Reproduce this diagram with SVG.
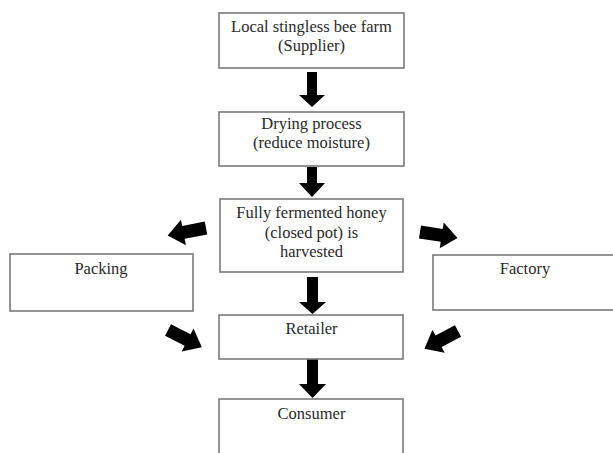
<svg xmlns="http://www.w3.org/2000/svg" width="613" height="453" viewBox="0 0 613 453">
<style>
.box{fill:#fff;stroke:#7a7a7a;stroke-width:1.6}
.t{font-family:"Liberation Serif","Times New Roman",serif;font-size:16.5px;fill:#2a2a2a;text-anchor:middle}
.arr{fill:#000}
</style>
<rect width="613" height="453" fill="#fff"/>
<g id="connectors">
<polygon class="arr" points="307,72 317,72 317,95 325,95 312,107 299,95 307,95"/>
<polygon class="arr" points="307,167 317,167 317,183 325,183 312,197 299,183 307,183"/>
<polygon class="arr" points="307,277 318,277 318,302 326,302 312.5,314 299,302 307,302"/>
<polygon class="arr" points="307,359 318,359 318,384 326,384 312.5,398 299,384 307,384"/>
<g transform="translate(206,228) rotate(169)"><polygon class="arr" points="0,-6.5 23,-6.5 23,-13 39,0 23,13 23,6.5 0,6.5"/></g>
<g transform="translate(420,232) rotate(9)"><polygon class="arr" points="0,-6.5 22,-6.5 22,-13 38,0 22,13 22,6.5 0,6.5"/></g>
<g transform="translate(168,330) rotate(27)"><polygon class="arr" points="0,-6.5 22,-6.5 22,-13 38,0 22,13 22,6.5 0,6.5"/></g>
<g transform="translate(458,331) rotate(152)"><polygon class="arr" points="0,-6.5 22,-6.5 22,-13 38,0 22,13 22,6.5 0,6.5"/></g>
</g>
<g id="supplier">
<rect class="box" x="219" y="13" width="185" height="55"/>
<text class="t" x="311.5" y="32">Local stingless bee farm</text>
<text class="t" x="311.5" y="51">(Supplier)</text>
</g>
<g id="drying">
<rect class="box" x="219" y="112" width="185" height="54"/>
<text class="t" x="311.5" y="129">Drying process</text>
<text class="t" x="311.5" y="148">(reduce moisture)</text>
</g>
<g id="harvested">
<rect class="box" x="220" y="199" width="183" height="73"/>
<text class="t" x="311.5" y="218">Fully fermented honey</text>
<text class="t" x="311.5" y="238">(closed pot) is</text>
<text class="t" x="311.5" y="257">harvested</text>
</g>
<g id="packing">
<rect class="box" x="10" y="254" width="183" height="57"/>
<text class="t" x="101" y="274">Packing</text>
</g>
<g id="factory">
<rect class="box" x="433" y="255" width="190" height="55"/>
<text class="t" x="525" y="274">Factory</text>
</g>
<g id="retailer">
<rect class="box" x="219" y="315" width="184" height="44"/>
<text class="t" x="311.5" y="334">Retailer</text>
</g>
<g id="consumer">
<rect class="box" x="219" y="399" width="184" height="70"/>
<text class="t" x="311.5" y="419">Consumer</text>
</g>
</svg>
